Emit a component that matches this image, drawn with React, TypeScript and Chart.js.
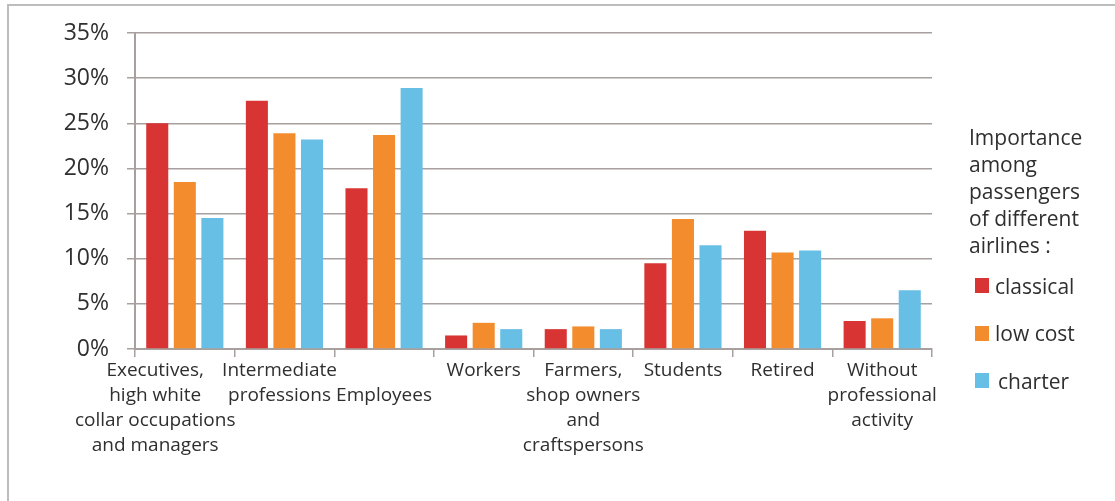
import React, { useEffect, useRef } from 'react';
import { Chart, registerables } from 'chart.js';

Chart.register(...registerables);

// categories (one line per array entry, as printed under the axis)
const categories: string[][] = [
  ['Executives,', 'high white', 'collar occupations', 'and managers'],
  ['Intermediate', 'professions'],
  ['', 'Employees'],
  ['Workers'],
  ['Farmers,', 'shop owners', 'and', 'craftspersons'],
  ['Students'],
  ['Retired'],
  ['Without', 'professional', 'activity'],
];

// share of passengers, %
const classical = [25.0, 27.5, 17.8, 1.5, 2.2, 9.5, 13.1, 3.1];
const lowCost = [18.5, 23.9, 23.7, 2.9, 2.5, 14.4, 10.7, 3.4];
const charter = [14.5, 23.2, 28.9, 2.2, 2.2, 11.5, 10.9, 6.5];

const seriesNames = ['classical', 'low cost', 'charter'];
const seriesColors = ['#d93434', '#f28c2c', '#68bfe6'];

const yMax = 35;
const yStep = 5;

const legendTitle = ['Importance', 'among', 'passengers', 'of different', 'airlines :'];

const FONT = "'Open Sans', 'Noto Sans', sans-serif";
const GRID = '#a7a09e';
const TEXT = '#2f2f2f';

// the first two labels sit a little left of their category centre in the original
const labelShift = [31, 6, 0, 0, 0, 0, 0, 0];

function shiftLines(lines: string[], px: number): string[] {
  if (!px) return lines;
  const pad = ' '.repeat(Math.round((2 * px) / 5));
  return lines.map((l) => (l ? l + pad : l));
}

const BarChart: React.FC = () => {
  const chartRef = useRef<HTMLCanvasElement>(null);

  useEffect(() => {
    if (!chartRef.current) return;
    const values = [classical, lowCost, charter];
    const chart = new Chart(chartRef.current, {
      type: 'bar',
      data: {
        labels: categories.map((c) => c.join(' ')),
        datasets: values.map((v, i) => ({
          label: seriesNames[i],
          data: v,
          backgroundColor: seriesColors[i],
          borderWidth: 0,
          categoryPercentage: 0.83,
          barPercentage: 0.8,
        })),
      },
      options: {
        animation: false,
        responsive: true,
        maintainAspectRatio: false,
        layout: { padding: { left: 0, top: 33, right: 183, bottom: 0 } },
        plugins: {
          legend: { display: false },
          tooltip: { enabled: false },
        },
        scales: {
          x: {
            grid: {
              drawOnChartArea: false,
              drawTicks: true,
              tickLength: 8,
              color: GRID,
              lineWidth: 1.5,
            },
            border: { display: true, color: GRID, width: 2 },
            ticks: {
              autoSkip: false,
              maxRotation: 0,
              minRotation: 0,
              padding: 1,
              color: TEXT,
              font: { family: FONT, size: 19, lineHeight: '25px' },
              callback: (_v, index) => shiftLines(categories[index], labelShift[index]),
            },
            afterFit: (scale) => {
              scale.height = 152;
            },
          },
          y: {
            min: 0,
            max: yMax,
            grid: {
              color: GRID,
              lineWidth: 1.5,
              tickLength: 8,
              drawTicks: true,
            },
            border: { display: true, color: GRID, width: 2 },
            ticks: {
              stepSize: yStep,
              padding: 18,
              color: TEXT,
              font: { family: FONT, size: 23 },
              callback: (v) => v + '%',
            },
            afterFit: (scale) => {
              scale.width = 135;
            },
          },
        },
      },
    });
    return () => {
      chart.destroy();
    };
  }, []);

  return <canvas ref={chartRef} />;
};

const App: React.FC = () => {
  return (
    <div
      style={{
        position: 'fixed',
        left: 0,
        top: 0,
        width: 1115,
        height: 501,
        overflow: 'hidden',
        background: '#fff',
      }}
    >
      <div
        style={{
          position: 'absolute',
          left: 7,
          top: 4,
          width: 1300,
          height: 700,
          border: '2px solid #bdbdbd',
        }}
      />
      <div style={{ position: 'absolute', left: 0, top: 0, width: 1115, height: 501 }}>
        <BarChart />
      </div>
      <div
        style={{
          position: 'absolute',
          left: 969,
          top: 124,
          fontFamily: FONT,
          fontSize: 21,
          lineHeight: '27px',
          color: TEXT,
          whiteSpace: 'nowrap',
        }}
      >
        {legendTitle.map((t) => (
          <div key={t}>{t}</div>
        ))}
      </div>
      {seriesNames.map((name, i) => (
        <div
          key={name}
          style={{
            position: 'absolute',
            left: 975,
            top: 272 + i * 47.5,
            height: 27,
            display: 'flex',
            alignItems: 'center',
            fontFamily: FONT,
            fontSize: 21,
            color: TEXT,
            whiteSpace: 'nowrap',
          }}
        >
          <span
            style={{
              display: 'inline-block',
              width: 14,
              height: 15,
              background: seriesColors[i],
              marginRight: i === 2 ? 9 : 6,
            }}
          />
          {name}
        </div>
      ))}
    </div>
  );
};

export default App;
